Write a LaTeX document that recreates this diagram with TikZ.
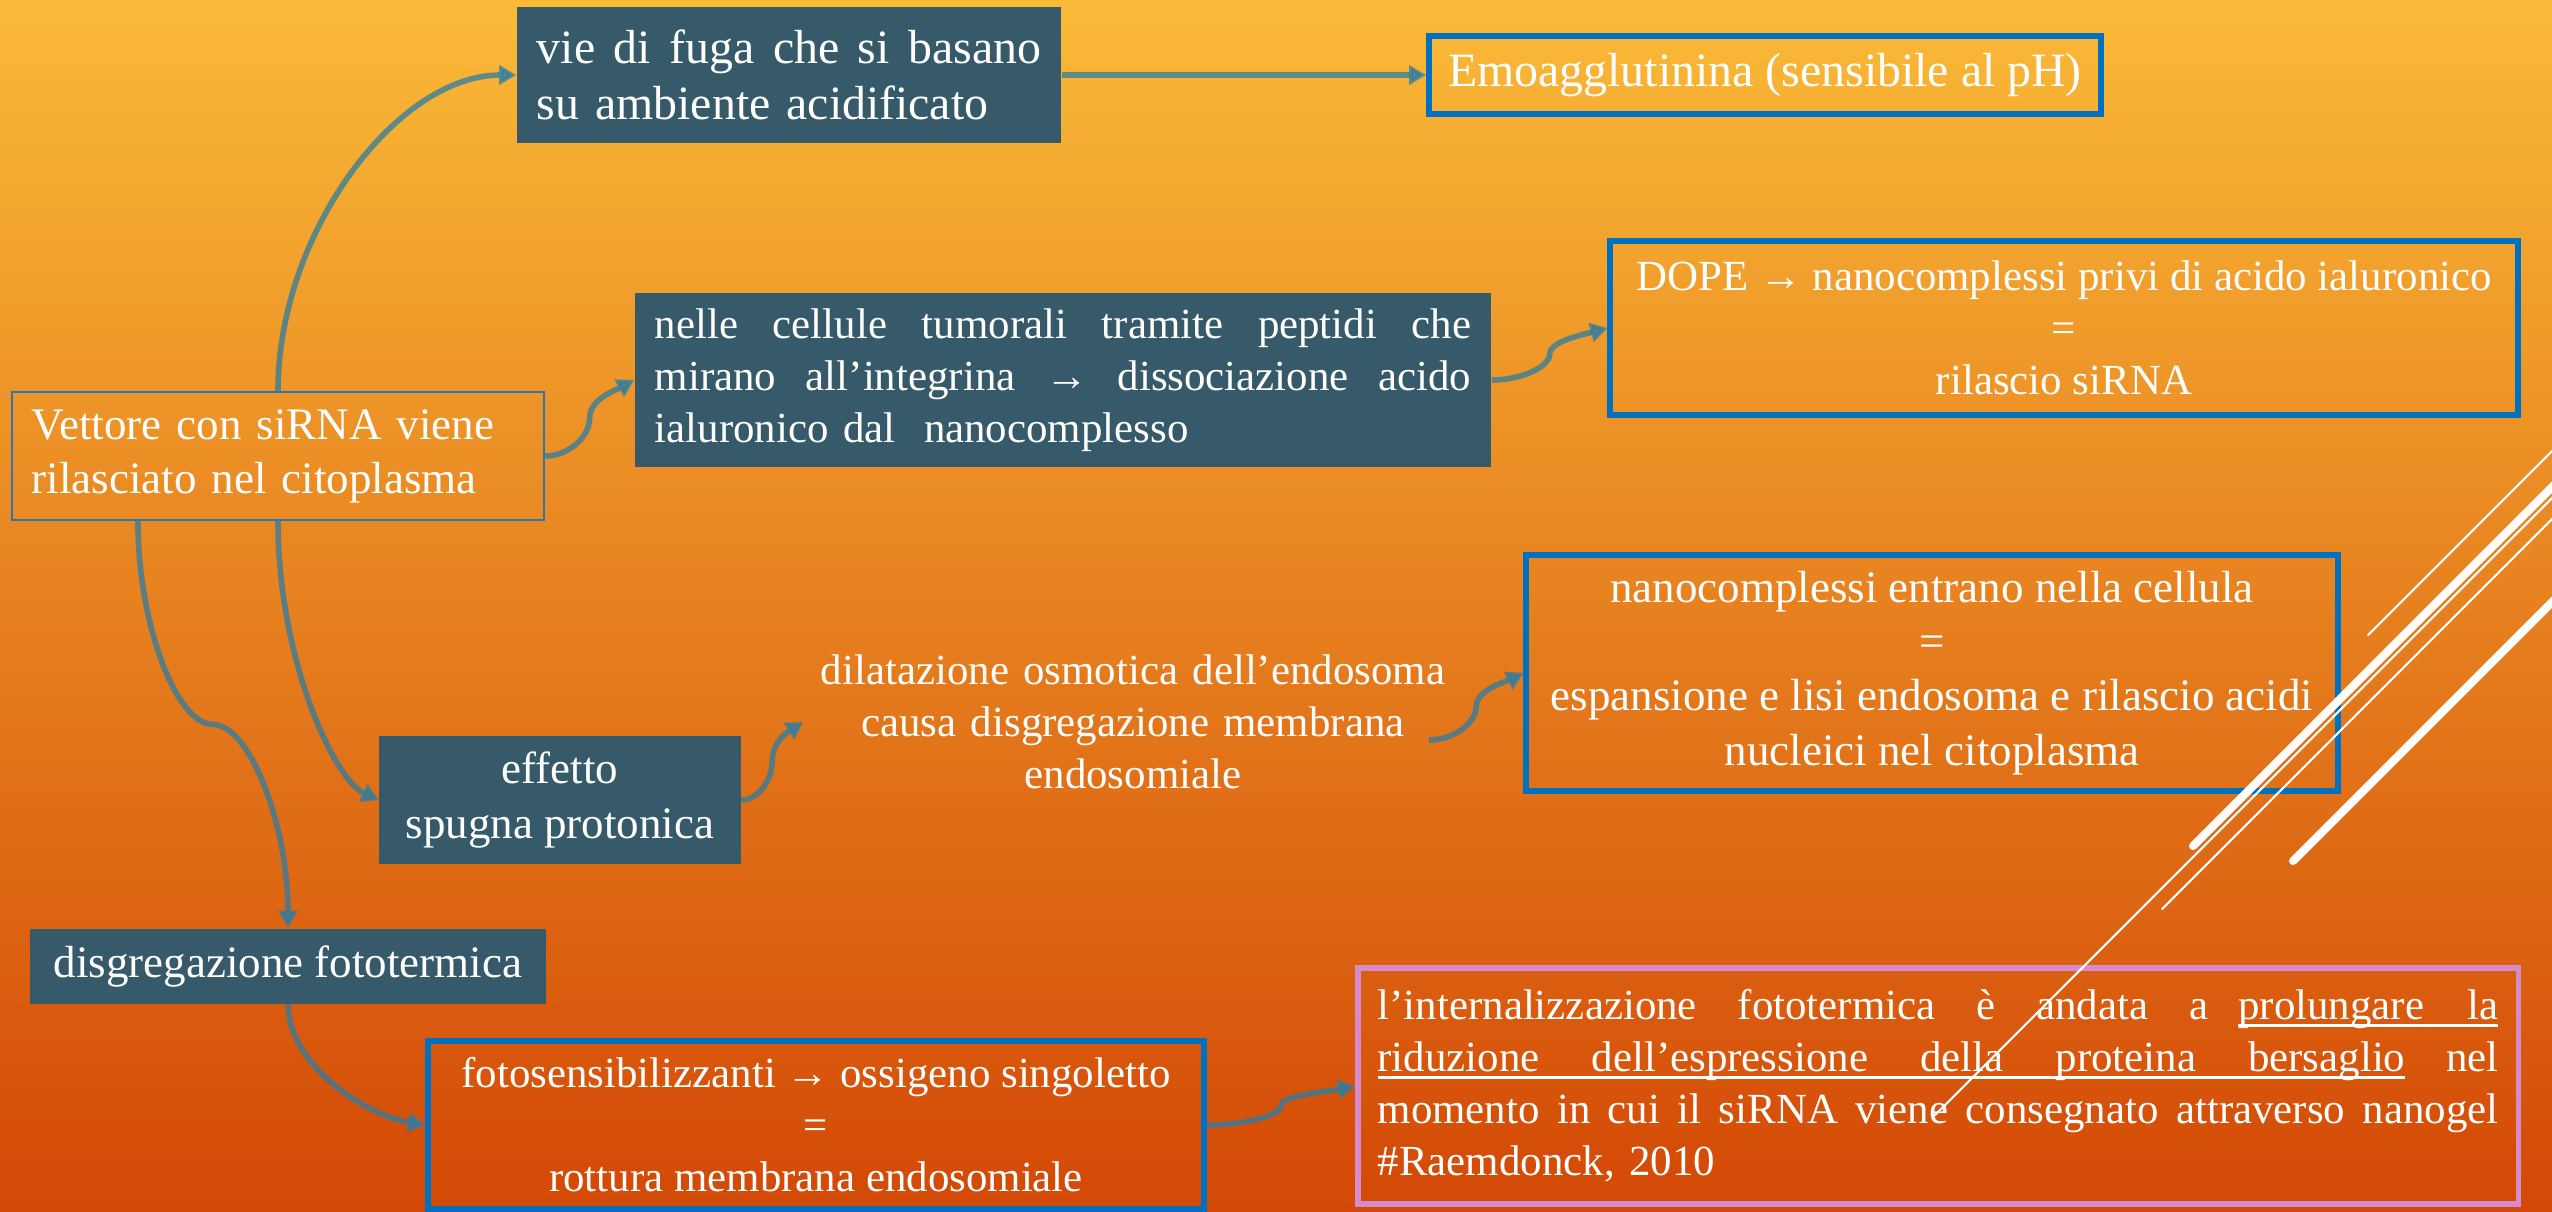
\documentclass[tikz,border=0pt]{standalone}
\usepackage{fontspec}
\setmainfont{Liberation Serif}
\usetikzlibrary{arrows.meta,calc}

\definecolor{slate}{RGB}{54,90,106}
\definecolor{boxblue}{RGB}{0,112,192}
\definecolor{thinblue}{RGB}{46,117,182}
\definecolor{pinkline}{RGB}{214,140,204}
\definecolor{connc}{RGB}{44,125,163}
\definecolor{bgtop}{RGB}{250,186,56}
\definecolor{bgmid}{RGB}{236,140,36}
\definecolor{bgbot}{RGB}{211,72,6}

% words spread to a given width (justified line)
\newcommand{\jline}[2]{\leavevmode\makebox[#1][s]{\spaceskip=0pt\xspaceskip=0pt\relax #2}}
% the same, underlined
\newcommand{\ulbox}[2]{\leavevmode\rlap{\rule[-0.07cm]{#1}{0.7pt}}\jline{#1}{#2}}

\begin{document}
\begin{tikzpicture}[x=0.01cm,y=-0.01cm,
    bigfont/.style={font=\fontsize{13.6}{15.9}\selectfont},
    midfont/.style={font=\fontsize{12.8}{15.4}\selectfont},
    smallfont/.style={font=\fontsize{12.2}{14.8}\selectfont},
    darkbox/.style={fill=slate,text=white,inner xsep=0.2cm,inner ysep=0pt},
    bluebox/.style={draw=boxblue,line width=1.6pt,text=white,inner sep=0pt},
    conn/.style={draw=connc,opacity=.75,line width=1.6pt,-{Triangle[length=0.17cm,width=0.19cm]}},
    deco/.style={white,line cap=round}]
        \useasboundingbox (0,0) rectangle (2552,1211);
        \clip (0,0) rectangle (2552,1211);

        % Background
        \shade[top color=bgtop,middle color=bgmid,bottom color=bgbot] (0,0) rectangle (2552,1211);

        % Boxes
        \node[darkbox,bigfont,text width=5.04cm,minimum height=1.36cm,align=left] (fuga) at (789,75)
            {\jline{\hsize}{vie di fuga che si basano}\\su ambiente acidificato};
        \node[bluebox,bigfont,minimum width=6.72cm,minimum height=0.78cm] (emo) at (1765,75)
            {Emoagglutinina (sensibile al pH)};
        \node[darkbox,smallfont,text width=8.16cm,minimum height=1.74cm,align=left] (tumor) at (1063,380)
            {\jline{\hsize}{nelle cellule tumorali tramite peptidi che}\\
             \jline{\hsize}{mirano all’integrina → dissociazione acido}\\
             ialuronico dal~ nanocomplesso};
        \node[bluebox,smallfont,minimum width=9.07cm,minimum height=1.74cm,align=center] (dope) at (2064,328)
            {DOPE → nanocomplessi privi di acido ialuronico\\=\\rilascio siRNA};
        \node[draw=thinblue,line width=0.6pt,text=white,midfont,inner xsep=0.2cm,inner ysep=0pt,
              text width=4.92cm,minimum height=1.28cm,align=left] (vett) at (278,456)
            {Vettore con siRNA viene\\rilasciato nel citoplasma};
        \node[darkbox,midfont,minimum width=3.61cm,minimum height=1.28cm,align=center] (spugna) at (560,800)
            {effetto\\spugna protonica};
        \node[text=white,smallfont,text width=6.3cm,inner xsep=0.14cm,align=center] (osmo) at (1133,722)
            {dilatazione osmotica dell’endosoma\\causa disgregazione membrana\\endosomiale};
        \node[bluebox,midfont,minimum width=8.11cm,minimum height=2.36cm,align=center] (nano) at (1932,673)
            {nanocomplessi entrano nella cellula\\=\\espansione e lisi endosoma e rilascio acidi\\nucleici nel citoplasma};
        \node[darkbox,midfont,minimum width=5.16cm,minimum height=0.75cm] (foto) at (288,966)
            {disgregazione fototermica};
        \node[bluebox,smallfont,minimum width=7.76cm,minimum height=1.68cm,align=center] (singo) at (816,1125)
            {fotosensibilizzanti → ossigeno singoletto\\=\\rottura membrana endosomiale};
        \node[draw=pinkline,line width=1.6pt,text=white,smallfont,inner xsep=0.2cm,inner ysep=0pt,
              text width=11.2cm,minimum height=2.36cm,align=left] (raem) at (1938,1086)
            {\jline{0.741\hsize}{l’internalizzazione fototermica è andata a}\hfill\ulbox{0.232\hsize}{prolungare la}\\
             \ulbox{0.917\hsize}{riduzione dell’espressione della proteina bersaglio}\hfill nel\\
             \jline{\hsize}{momento in cui il siRNA viene consegnato attraverso nanogel}\\
             \#Raemdonck, 2010};

        % Connectors
        \coordinate (vfoot) at ([xshift=-1.4cm]vett.south);
        \coordinate (osmoout) at ([shift={(-34,18)}]osmo.east);
        \draw[conn] (fuga) -- (emo);
        \draw[conn] (vett.north) .. controls +(0,-158) and +(-119,0) .. (fuga.west);
        \draw[conn] (vett.east) .. controls +(23,0) and +(0,19) .. ($(vett.east)!.5!(tumor.west)$)
            .. controls +(0,-19) and +(-18,10) .. (tumor.west);
        \draw[conn] (tumor.east) .. controls +(29,0) and +(0,13) .. ($(tumor.east)!.5!(dope.west)$)
            .. controls +(0,-13) and +(-22,6) .. (dope.west);
        \draw[conn] (vett.south) .. controls +(0,139) and +(-44,-20) .. (spugna.west);
        \draw[conn] (vfoot) .. controls +(0,102) and +(-37,0) .. ($(vfoot)!.5!(foto.north)$)
            .. controls +(37,0) and +(0,-102) .. (foto.north);
        \draw[conn] (spugna.east) .. controls +(16,0) and +(0,20) .. ($(spugna.east)!.5!(osmo.west)$)
            .. controls +(0,-20) and +(-14,9) .. (osmo.west);
        \draw[conn] (osmoout) .. controls +(24,0) and +(0,17) .. ($(osmoout)!.5!(nano.west)$)
            .. controls +(0,-17) and +(-16,8) .. (nano.west);
        \draw[conn] (foto.south) .. controls +(0,60) and +(-60,-10) .. (singo.west);
        \draw[conn] (singo.east) .. controls +(37,0) and +(0,10) .. ($(singo.east)!.5!(raem.west)$)
            .. controls +(0,-10) and +(-30,6) .. (raem.west);

        % Theme lines
        \draw[deco,line width=2.3pt] (2193,846) -- ++(420,-420);
        \draw[deco,line width=2.3pt] (2293,861) -- ++(300,-300);
        \draw[deco,line width=0.6pt] (2368,635) -- ++(250,-250);
        \draw[deco,line width=0.6pt] (1935,1115) -- ++(700,-700);
        \draw[deco,line width=0.6pt] (2162,909) -- ++(450,-450);
\end{tikzpicture}
\end{document}
